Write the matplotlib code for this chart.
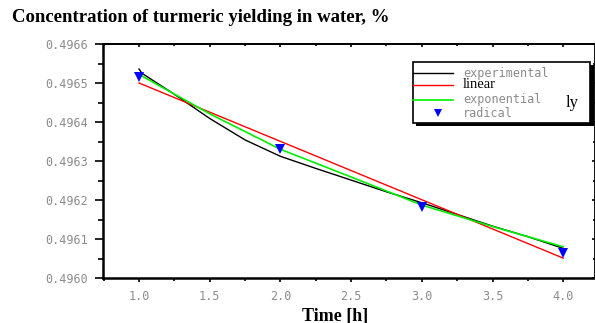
import matplotlib
matplotlib.use("Agg")
import matplotlib.pyplot as plt
from matplotlib.lines import Line2D
from matplotlib.patches import Rectangle
from matplotlib.ticker import MultipleLocator, FormatStrFormatter

# experimental curve
t_exp = [1.0, 1.02, 1.25, 1.5, 1.75, 2.0, 2.25, 2.5, 2.75, 3.0, 3.25, 3.5, 3.75, 4.0]
c_exp = [0.496536, 0.496525, 0.496471, 0.496409, 0.496354, 0.496312, 0.496281,
         0.496251, 0.496221, 0.496193, 0.496163, 0.496133, 0.496106, 0.496076]
# linear fit
t_lin = [1.0, 4.0]
c_lin = [0.496500, 0.496051]
# exponential fit
t_expo = [1.0, 1.5, 2.0, 2.5, 3.0, 3.5, 4.0]
c_expo = [0.496522, 0.496421, 0.496330, 0.496259, 0.496187, 0.496132, 0.496080]
# radical
t_rad = [1.0, 2.0, 3.0, 4.0]
c_rad = [0.496515, 0.496331, 0.496183, 0.496064]

fig = plt.figure(figsize=(5.95, 3.23), dpi=100)
ax = fig.add_axes([103/595, 1-278/323, 492/595, 234/323])

ax.plot(t_exp, c_exp, color="black", lw=1.0)
ax.plot(t_lin, c_lin, color="#ff0000", lw=1.0)
ax.plot(t_expo, c_expo, color="#00ee00", lw=1.2)
ax.plot(t_rad, c_rad, "v", color="#0000ff", ms=7, markeredgewidth=0)

ax.set_xlim(0.745, 4.225)
ax.set_ylim(0.4960, 0.4966)
ax.xaxis.set_major_locator(MultipleLocator(0.5))
ax.xaxis.set_minor_locator(MultipleLocator(0.25))
ax.yaxis.set_major_locator(MultipleLocator(0.0001))
ax.yaxis.set_minor_locator(MultipleLocator(0.00005))
ax.xaxis.set_major_formatter(FormatStrFormatter("%.1f"))
ax.yaxis.set_major_formatter(FormatStrFormatter("%.4f"))

for lab in ax.get_xticklabels() + ax.get_yticklabels():
    lab.set_fontfamily("DejaVu Sans Mono")
    lab.set_fontsize(8.5)
    lab.set_color("#8c8c8c")

ax.tick_params(axis="y", which="major", direction="out", length=5.8, width=1.2, pad=5)
ax.tick_params(axis="y", which="minor", direction="out", length=3.6, width=1.2)
ax.tick_params(axis="x", which="major", direction="out", length=3, width=1.2, pad=6)
ax.tick_params(axis="x", which="minor", direction="out", length=2.5, width=1.2)

for s in ["left", "bottom"]:
    ax.spines[s].set_linewidth(1.8)
ax.spines["top"].set_linewidth(1.3)
ax.spines["right"].set_linewidth(1.3)

# inward ticks on top and right
top = ax.secondary_xaxis("top")
top.xaxis.set_major_locator(MultipleLocator(0.5))
top.xaxis.set_minor_locator(MultipleLocator(0.25))
top.tick_params(which="major", direction="in", length=2.5, width=1.2, labeltop=False)
top.tick_params(which="minor", direction="in", length=1.5, width=1.2)
top.spines["top"].set_linewidth(1.3)
right = ax.secondary_yaxis("right")
right.yaxis.set_major_locator(MultipleLocator(0.0001))
right.yaxis.set_minor_locator(MultipleLocator(0.00005))
right.tick_params(which="major", direction="in", length=2.5, width=1.2, labelright=False)
right.tick_params(which="minor", direction="in", length=1.5, width=1.2)

# legend drawn by hand
bx0, bx1, by0, by1 = 0.630, 0.990, 0.662, 0.923
ax.add_patch(Rectangle((bx0 + 0.007, by0 - 0.013), bx1 - bx0, by1 - by0,
                       transform=ax.transAxes, facecolor="black", edgecolor="none", zorder=5))
ax.add_patch(Rectangle((bx0, by0), bx1 - bx0, by1 - by0, transform=ax.transAxes,
                       facecolor="white", edgecolor="black", lw=1.2, zorder=6))
rows = [0.876, 0.825, 0.761, 0.705]
hx0, hx1 = 0.630, 0.711
ax.add_line(Line2D([hx0, hx1], [rows[0]] * 2, color="black", lw=1.0, transform=ax.transAxes, zorder=7))
ax.add_line(Line2D([hx0, hx1], [rows[1]] * 2, color="#ff0000", lw=1.0, transform=ax.transAxes, zorder=7))
ax.add_line(Line2D([hx0, hx1], [rows[2]] * 2, color="#00ee00", lw=1.2, transform=ax.transAxes, zorder=7))
ax.add_line(Line2D([0.681], [rows[3]], marker="v", color="#0000ff", ms=6, mew=0,
                   transform=ax.transAxes, zorder=7))
tx = 0.732
mono = dict(family="DejaVu Sans Mono", size=8.5, color="#8c8c8c", va="center",
            transform=ax.transAxes, zorder=8)
ax.text(tx, rows[0], "experimental", **mono)
ax.text(tx, rows[1], "linear", family="Liberation Serif", size=10.5, color="black",
        va="center", transform=ax.transAxes, zorder=8)
ax.text(tx, rows[2], "exponential", **mono)
ax.text(0.940, rows[2] - 0.015, "ly", family="Liberation Serif", size=12, color="black",
        va="center", transform=ax.transAxes, zorder=8)
ax.text(tx, rows[3], "radical", **mono)

fig.text(12/595, 1 - 18/323, "Concentration of turmeric yielding in water, %",
         family="Liberation Serif", weight="bold", size=13.5, va="center", ha="left")
fig.text(335/595, 1 - 316/323, "Time [h]", family="Liberation Serif", weight="bold",
         size=13, va="center", ha="center")

fig.savefig("out.png", dpi=100)
